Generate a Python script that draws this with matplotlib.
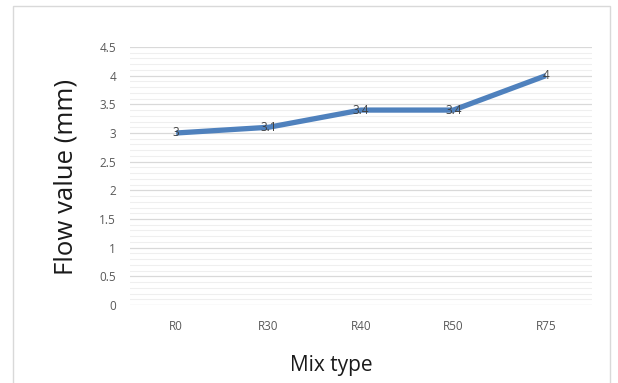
import matplotlib
matplotlib.use('Agg')
from matplotlib import pyplot as plt
from matplotlib.patches import Rectangle
import numpy as np

# Data
mix_types = ['R0', 'R30', 'R40', 'R50', 'R75']
flow_values = [3.0, 3.1, 3.4, 3.4, 4.0]
flow_labels = ['3', '3.1', '3.4', '3.4', '4']
y_ticks = [0, 0.5, 1, 1.5, 2, 2.5, 3, 3.5, 4, 4.5]
y_tick_labels = ['0', '0.5', '1', '1.5', '2', '2.5', '3', '3.5', '4', '4.5']

plt.rcParams['font.family'] = ['Open Sans', 'DejaVu Sans']

fig = plt.figure(figsize=(6.18, 3.83), dpi=100)
ax = fig.add_axes([130 / 618, 78 / 383, 462 / 618, 258 / 383])

# Outer chart border
fig.add_artist(Rectangle((13 / 618, -0.05), 597 / 618, 1.05 - 6 / 383,
                         transform=fig.transFigure, fill=False,
                         edgecolor='#d9d9d9', linewidth=1.0))

x = np.arange(len(mix_types))
ax.plot(x, flow_values, color='#4f81bd', linewidth=3.8, solid_capstyle='butt', zorder=3)
for xi, yi, lab in zip(x, flow_values, flow_labels):
    ax.text(xi, yi, lab, ha='center', va='center', fontsize=8.5, color='#404040', zorder=4)

ax.set_xlim(-0.5, len(mix_types) - 0.5)
ax.set_ylim(0, 4.5)
ax.set_xticks(x)
ax.set_xticklabels(mix_types)
ax.set_yticks(y_ticks)
ax.set_yticklabels(y_tick_labels)
ax.set_yticks(np.arange(0, 4.51, 0.1), minor=True)

ax.grid(axis='y', which='major', color='#d9d9d9', linewidth=0.9)
ax.grid(axis='y', which='minor', color='#efefef', linewidth=0.8)
ax.set_axisbelow(True)
for s in ax.spines.values():
    s.set_visible(False)
ax.tick_params(axis='both', which='both', length=0, labelsize=8.5, colors='#595959')
ax.tick_params(axis='x', pad=11)
ax.tick_params(axis='y', pad=10)

fig.text(66 / 618, 1 - 177 / 383, 'Flow value (mm)', rotation=90, ha='center', va='center',
         fontsize=18.5, color='#1a1a1a')
fig.text(331 / 618, 1 - 366 / 383, 'Mix type', ha='center', va='center',
         fontsize=15, color='#1a1a1a')

fig.savefig('out.png', dpi=100)
